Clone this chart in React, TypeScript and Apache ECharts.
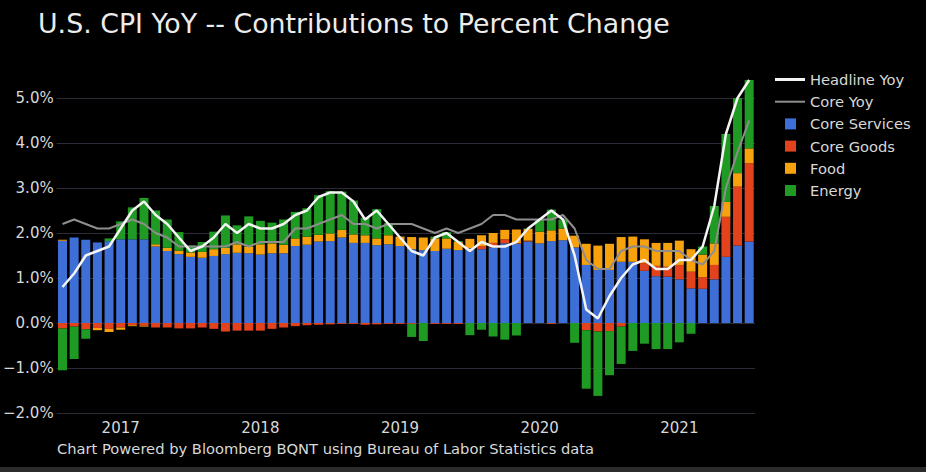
import React, { useEffect, useRef } from "react";
import * as echarts from "echarts";

const months = [
  "2016-07", "2016-08", "2016-09", "2016-10", "2016-11", "2016-12",
  "2017-01", "2017-02", "2017-03", "2017-04", "2017-05", "2017-06",
  "2017-07", "2017-08", "2017-09", "2017-10", "2017-11", "2017-12",
  "2018-01", "2018-02", "2018-03", "2018-04", "2018-05", "2018-06",
  "2018-07", "2018-08", "2018-09", "2018-10", "2018-11", "2018-12",
  "2019-01", "2019-02", "2019-03", "2019-04", "2019-05", "2019-06",
  "2019-07", "2019-08", "2019-09", "2019-10", "2019-11", "2019-12",
  "2020-01", "2020-02", "2020-03", "2020-04", "2020-05", "2020-06",
  "2020-07", "2020-08", "2020-09", "2020-10", "2020-11", "2020-12",
  "2021-01", "2021-02", "2021-03", "2021-04", "2021-05", "2021-06",
];

const coreServices = [
  1.83, 1.9, 1.85, 1.79, 1.82, 1.86,
  1.86, 1.86, 1.7, 1.6, 1.53, 1.47,
  1.45, 1.49, 1.53, 1.56, 1.55, 1.52,
  1.55, 1.55, 1.71, 1.74, 1.81, 1.82,
  1.9, 1.78, 1.78, 1.73, 1.75, 1.71,
  1.64, 1.62, 1.6, 1.65, 1.62, 1.66,
  1.64, 1.68, 1.77, 1.76, 1.81, 1.77,
  1.82, 1.84, 1.68, 1.29, 1.18, 1.18,
  1.36, 1.36, 1.16, 1.04, 1.03, 0.97,
  0.77, 0.76, 0.97, 1.47, 1.72, 1.81,
];

const coreGoods = [
  -0.12, -0.08, -0.14, -0.11, -0.13, -0.1,
  -0.05, -0.06, -0.1, -0.1, -0.12, -0.12,
  -0.1, -0.13, -0.19, -0.17, -0.17, -0.17,
  -0.13, -0.1, -0.07, -0.05, -0.04, -0.03,
  -0.02, -0.02, -0.04, -0.03, -0.02, -0.02,
  -0.02, 0.0, -0.02, -0.02, -0.02, 0.0,
  0.07, 0.1, 0.09, 0.02, 0.02, 0.0,
  -0.02, 0.0, 0.0, -0.16, -0.19, -0.18,
  -0.08, 0.0, 0.17, 0.23, 0.22, 0.32,
  0.37, 0.26, 0.32, 0.89, 1.31, 1.74,
];

const food = [
  0.02, 0.0, 0.0, -0.05, -0.07, -0.05,
  -0.02, -0.02, 0.05, 0.07, 0.08, 0.1,
  0.13, 0.15, 0.14, 0.19, 0.15, 0.23,
  0.22, 0.19, 0.17, 0.18, 0.15, 0.17,
  0.17, 0.19, 0.17, 0.15, 0.2, 0.21,
  0.27, 0.28, 0.28, 0.23, 0.18, 0.21,
  0.24, 0.22, 0.21, 0.3, 0.26, 0.26,
  0.24, 0.26, 0.26, 0.47, 0.54, 0.58,
  0.55, 0.56, 0.53, 0.51, 0.53, 0.54,
  0.5, 0.5, 0.48, 0.33, 0.3, 0.33,
];

const energy = [
  -0.93, -0.72, -0.21, 0.0, 0.06, 0.4,
  0.71, 0.92, 0.75, 0.63, 0.41, 0.15,
  0.22, 0.39, 0.72, 0.42, 0.67, 0.52,
  0.46, 0.56, 0.59, 0.63, 0.88, 0.94,
  0.85, 0.75, 0.39, 0.65, 0.27, 0.0,
  -0.29, -0.4, 0.04, 0.14, 0.02, -0.27,
  -0.15, -0.3, -0.37, -0.28, 0.01, 0.27,
  0.46, 0.2, -0.44, -1.3, -1.43, -0.98,
  -0.83, -0.62, -0.46, -0.58, -0.58, -0.43,
  -0.24, 0.18, 0.83, 1.51, 1.67, 1.52,
];

const headlineYoy = [
  0.8, 1.1, 1.5, 1.6, 1.7, 2.1,
  2.5, 2.7, 2.4, 2.2, 1.9, 1.6,
  1.7, 1.9, 2.2, 2.0, 2.2, 2.1,
  2.1, 2.2, 2.4, 2.5, 2.8, 2.9,
  2.9, 2.7, 2.3, 2.5, 2.2, 1.9,
  1.6, 1.5, 1.9, 2.0, 1.8, 1.6,
  1.8, 1.7, 1.7, 1.8, 2.1, 2.3,
  2.5, 2.3, 1.5, 0.3, 0.1, 0.6,
  1.0, 1.3, 1.4, 1.2, 1.2, 1.4,
  1.4, 1.7, 2.6, 4.2, 5.0, 5.4,
];

const coreYoy = [
  2.2, 2.3, 2.2, 2.1, 2.1, 2.2,
  2.3, 2.2, 2.0, 1.9, 1.7, 1.7,
  1.7, 1.7, 1.7, 1.8, 1.7, 1.8,
  1.8, 1.8, 2.1, 2.1, 2.2, 2.3,
  2.4, 2.2, 2.2, 2.1, 2.2, 2.2,
  2.2, 2.1, 2.0, 2.1, 2.0, 2.1,
  2.2, 2.4, 2.4, 2.3, 2.3, 2.3,
  2.3, 2.4, 2.1, 1.4, 1.2, 1.2,
  1.6, 1.7, 1.7, 1.6, 1.6, 1.6,
  1.4, 1.3, 1.6, 3.0, 3.8, 4.5,
];

const FONT = "'DejaVu Sans', Verdana, sans-serif";
const TEXT = "#d8d8d8";
const SQUARE_ICON = "path://M0,0M30,11M10,0L21,0L21,11L10,11Z";
const THICK_LINE_ICON = "path://M0,0M30,11M0,4L30,4L30,7L0,7Z";
const THIN_LINE_ICON = "path://M0,0M30,11M0,4.5L30,4.5L30,6.5L0,6.5Z";

export default function App() {
  const ref = useRef<HTMLDivElement>(null);

  useEffect(() => {
    if (!ref.current) return;
    const chart = echarts.init(ref.current, undefined, { renderer: "svg" });

    const barBase = {
      type: "bar" as const,
      stack: "cpi",
      barWidth: 9,
      z: 2,
    };

    chart.setOption({
      animation: false,
      backgroundColor: "#000000",
      textStyle: { fontFamily: FONT },
      title: {
        text: "U.S. CPI YoY -- Contributions to Percent Change",
        left: 33,
        top: 5,
        textStyle: { color: "#ececec", fontSize: 26.8, fontWeight: "normal", fontFamily: FONT },
      },
      grid: { left: 55, right: 171, top: 75.5, bottom: 59 },
      legend: {
        orient: "vertical",
        left: 775,
        top: 72,
        padding: 0,
        itemWidth: 30,
        itemHeight: 11,
        itemGap: 7.2,
        itemStyle: { borderWidth: 0 },
        textStyle: { color: TEXT, fontSize: 14.7, fontFamily: FONT },
        data: [
          { name: "Headline Yoy", icon: THICK_LINE_ICON },
          { name: "Core Yoy", icon: THIN_LINE_ICON },
          { name: "Core Services", icon: SQUARE_ICON },
          { name: "Core Goods", icon: SQUARE_ICON },
          { name: "Food", icon: SQUARE_ICON },
          { name: "Energy", icon: SQUARE_ICON },
        ],
      },
      xAxis: {
        type: "category",
        data: months,
        axisLine: { show: false },
        axisTick: { show: false },
        splitLine: { show: false },
        axisLabel: {
          interval: (idx: number) => months[idx].endsWith("-12"),
          formatter: (val: string) => String(Number(val.slice(0, 4)) + 1),
          color: TEXT,
          fontSize: 15,
          fontFamily: FONT,
          margin: 7,
        },
      },
      yAxis: {
        type: "value",
        min: -2,
        max: 5.5,
        interval: 1,
        axisLine: { show: false },
        axisTick: { show: false },
        splitLine: { show: true, showMaxLine: false, lineStyle: { color: "#2c2c36", width: 1.2 } },
        axisLabel: {
          showMaxLabel: false,
          color: TEXT,
          fontSize: 15,
          fontFamily: FONT,
          margin: 3,
          formatter: (v: number) =>
            (v < 0 ? "\u2212" : "") + Math.abs(v).toFixed(1) + "%",
        },
      },
      series: [
        { ...barBase, name: "Core Services", data: coreServices, itemStyle: { color: "#3d6fd6" } },
        { ...barBase, name: "Core Goods", data: coreGoods, itemStyle: { color: "#e2421c" } },
        { ...barBase, name: "Food", data: food, itemStyle: { color: "#f7a10c" } },
        { ...barBase, name: "Energy", data: energy, itemStyle: { color: "#1f9a22" } },
        {
          type: "line",
          name: "Core Yoy",
          data: coreYoy,
          symbol: "none",
          z: 5,
          lineStyle: { color: "#8e8e8e", width: 2 },
          itemStyle: { color: "#8e8e8e" },
        },
        {
          type: "line",
          name: "Headline Yoy",
          data: headlineYoy,
          symbol: "none",
          z: 6,
          lineStyle: { color: "#f4f4f4", width: 2.5 },
          itemStyle: { color: "#f4f4f4" },
        },
      ],
      graphic: [
        {
          type: "text",
          left: 57,
          top: 441,
          style: {
            text: "Chart Powered by Bloomberg BQNT using Bureau of Labor Statistics data",
            fill: TEXT,
            fontSize: 14.7,
            fontFamily: FONT,
          },
        },
        {
          type: "rect",
          left: 0,
          top: 467,
          shape: { width: 926, height: 5 },
          style: { fill: "#2b2b2b" },
        },
      ],
    });

    return () => chart.dispose();
  }, []);

  return (
    <div
      ref={ref}
      style={{ position: "fixed", left: 0, top: 0, width: 926, height: 472 }}
    />
  );
}
